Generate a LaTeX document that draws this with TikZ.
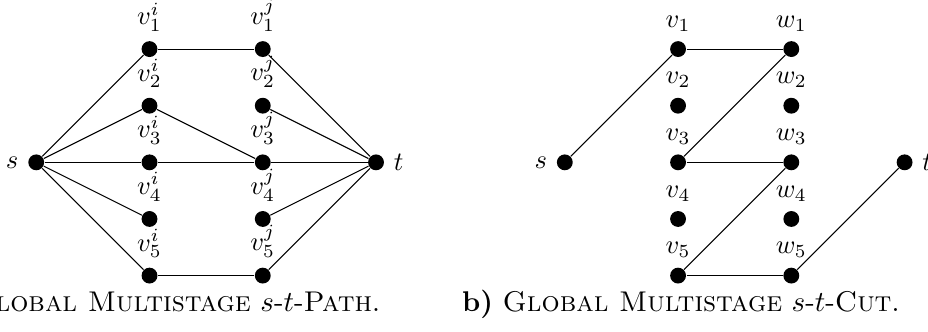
\documentclass[tikz,border=0pt]{standalone}
\usepackage{amsmath,amssymb}
\usepackage{xcolor}
\usepackage{tikz}
\usetikzlibrary{positioning,calc}

\begin{document}
\begin{tikzpicture}[
  dot/.style={circle, fill=black, inner sep=0pt, minimum size=0.21cm},
  edge/.style={draw, thin},
  capt/.style={inner sep=0pt, font=\fontsize{10.75}{13}\selectfont},
]
  \useasboundingbox (-0.48,-2.24) rectangle (11.81,2.15);
  \clip (-0.48,-2.24) rectangle (11.81,2.15);

  % a) path instance
  \node[dot, label=left:$s$] (s) at (0,0) {};
  \node[dot, label=above:$v^i_1$] (vi1) at (1.5,1.5) {};
  \node[dot, label=above:$v^i_2$] (vi2) at (1.5,0.75) {};
  \node[dot, label=above:$v^i_3$] (vi3) at (1.5,0) {};
  \node[dot, label=above:$v^i_4$] (vi4) at (1.5,-0.75) {};
  \node[dot, label=above:$v^i_5$] (vi5) at (1.5,-1.5) {};
  \node[dot, label=above:$v^j_1$] (vj1) at (3,1.5) {};
  \node[dot, label=above:$v^j_2$] (vj2) at (3,0.75) {};
  \node[dot, label=above:$v^j_3$] (vj3) at (3,0) {};
  \node[dot, label=above:$v^j_4$] (vj4) at (3,-0.75) {};
  \node[dot, label=above:$v^j_5$] (vj5) at (3,-1.5) {};
  \node[dot, label=right:$t$] (t) at (4.5,0) {};

  \draw[edge] (s) -- (vi1);
  \draw[edge] (s) -- (vi2);
  \draw[edge] (s) -- (vi3);
  \draw[edge] (s) -- (vi4);
  \draw[edge] (s) -- (vi5);
  \draw[edge] (vi1) -- (vj1);
  \draw[edge] (vi2) -- (vj3);
  \draw[edge] (vi3) -- (vj3);
  \draw[edge] (vi5) -- (vj5);
  \draw[edge] (vj1) -- (t);
  \draw[edge] (vj2) -- (t);
  \draw[edge] (vj3) -- (t);
  \draw[edge] (vj4) -- (t);
  \draw[edge] (vj5) -- (t);

  \node[capt, anchor=base east] (capa) at (4.56,-1.97)
    {\textbf{a)} \textsc{Global Multistage} $s$-$t$-\textsc{Path}.};

  % b) cut instance
  \node[dot, label=left:$s$] (s2) at (7,0) {};
  \node[dot, label=above:$v_1$] (v1) at (8.5,1.5) {};
  \node[dot, label=above:$v_2$] (v2) at (8.5,0.75) {};
  \node[dot, label=above:$v_3$] (v3) at (8.5,0) {};
  \node[dot, label=above:$v_4$] (v4) at (8.5,-0.75) {};
  \node[dot, label=above:$v_5$] (v5) at (8.5,-1.5) {};
  \node[dot, label=above:$w_1$] (w1) at (10,1.5) {};
  \node[dot, label=above:$w_2$] (w2) at (10,0.75) {};
  \node[dot, label=above:$w_3$] (w3) at (10,0) {};
  \node[dot, label=above:$w_4$] (w4) at (10,-0.75) {};
  \node[dot, label=above:$w_5$] (w5) at (10,-1.5) {};
  \node[dot, label=right:$t$] (t2) at (11.5,0) {};

  \draw[edge] (s2) -- (v1);
  \draw[edge] (v1) -- (w1);
  \draw[edge] (w1) -- (v3);
  \draw[edge] (v3) -- (w3);
  \draw[edge] (w3) -- (v5);
  \draw[edge] (v5) -- (w5);
  \draw[edge] (w5) -- (t2);

  \node[capt, anchor=base east] (capb) at (11.44,-1.97)
    {\textbf{b)} \textsc{Global Multistage} $s$-$t$-\textsc{Cut}.};
\end{tikzpicture}
\end{document}
